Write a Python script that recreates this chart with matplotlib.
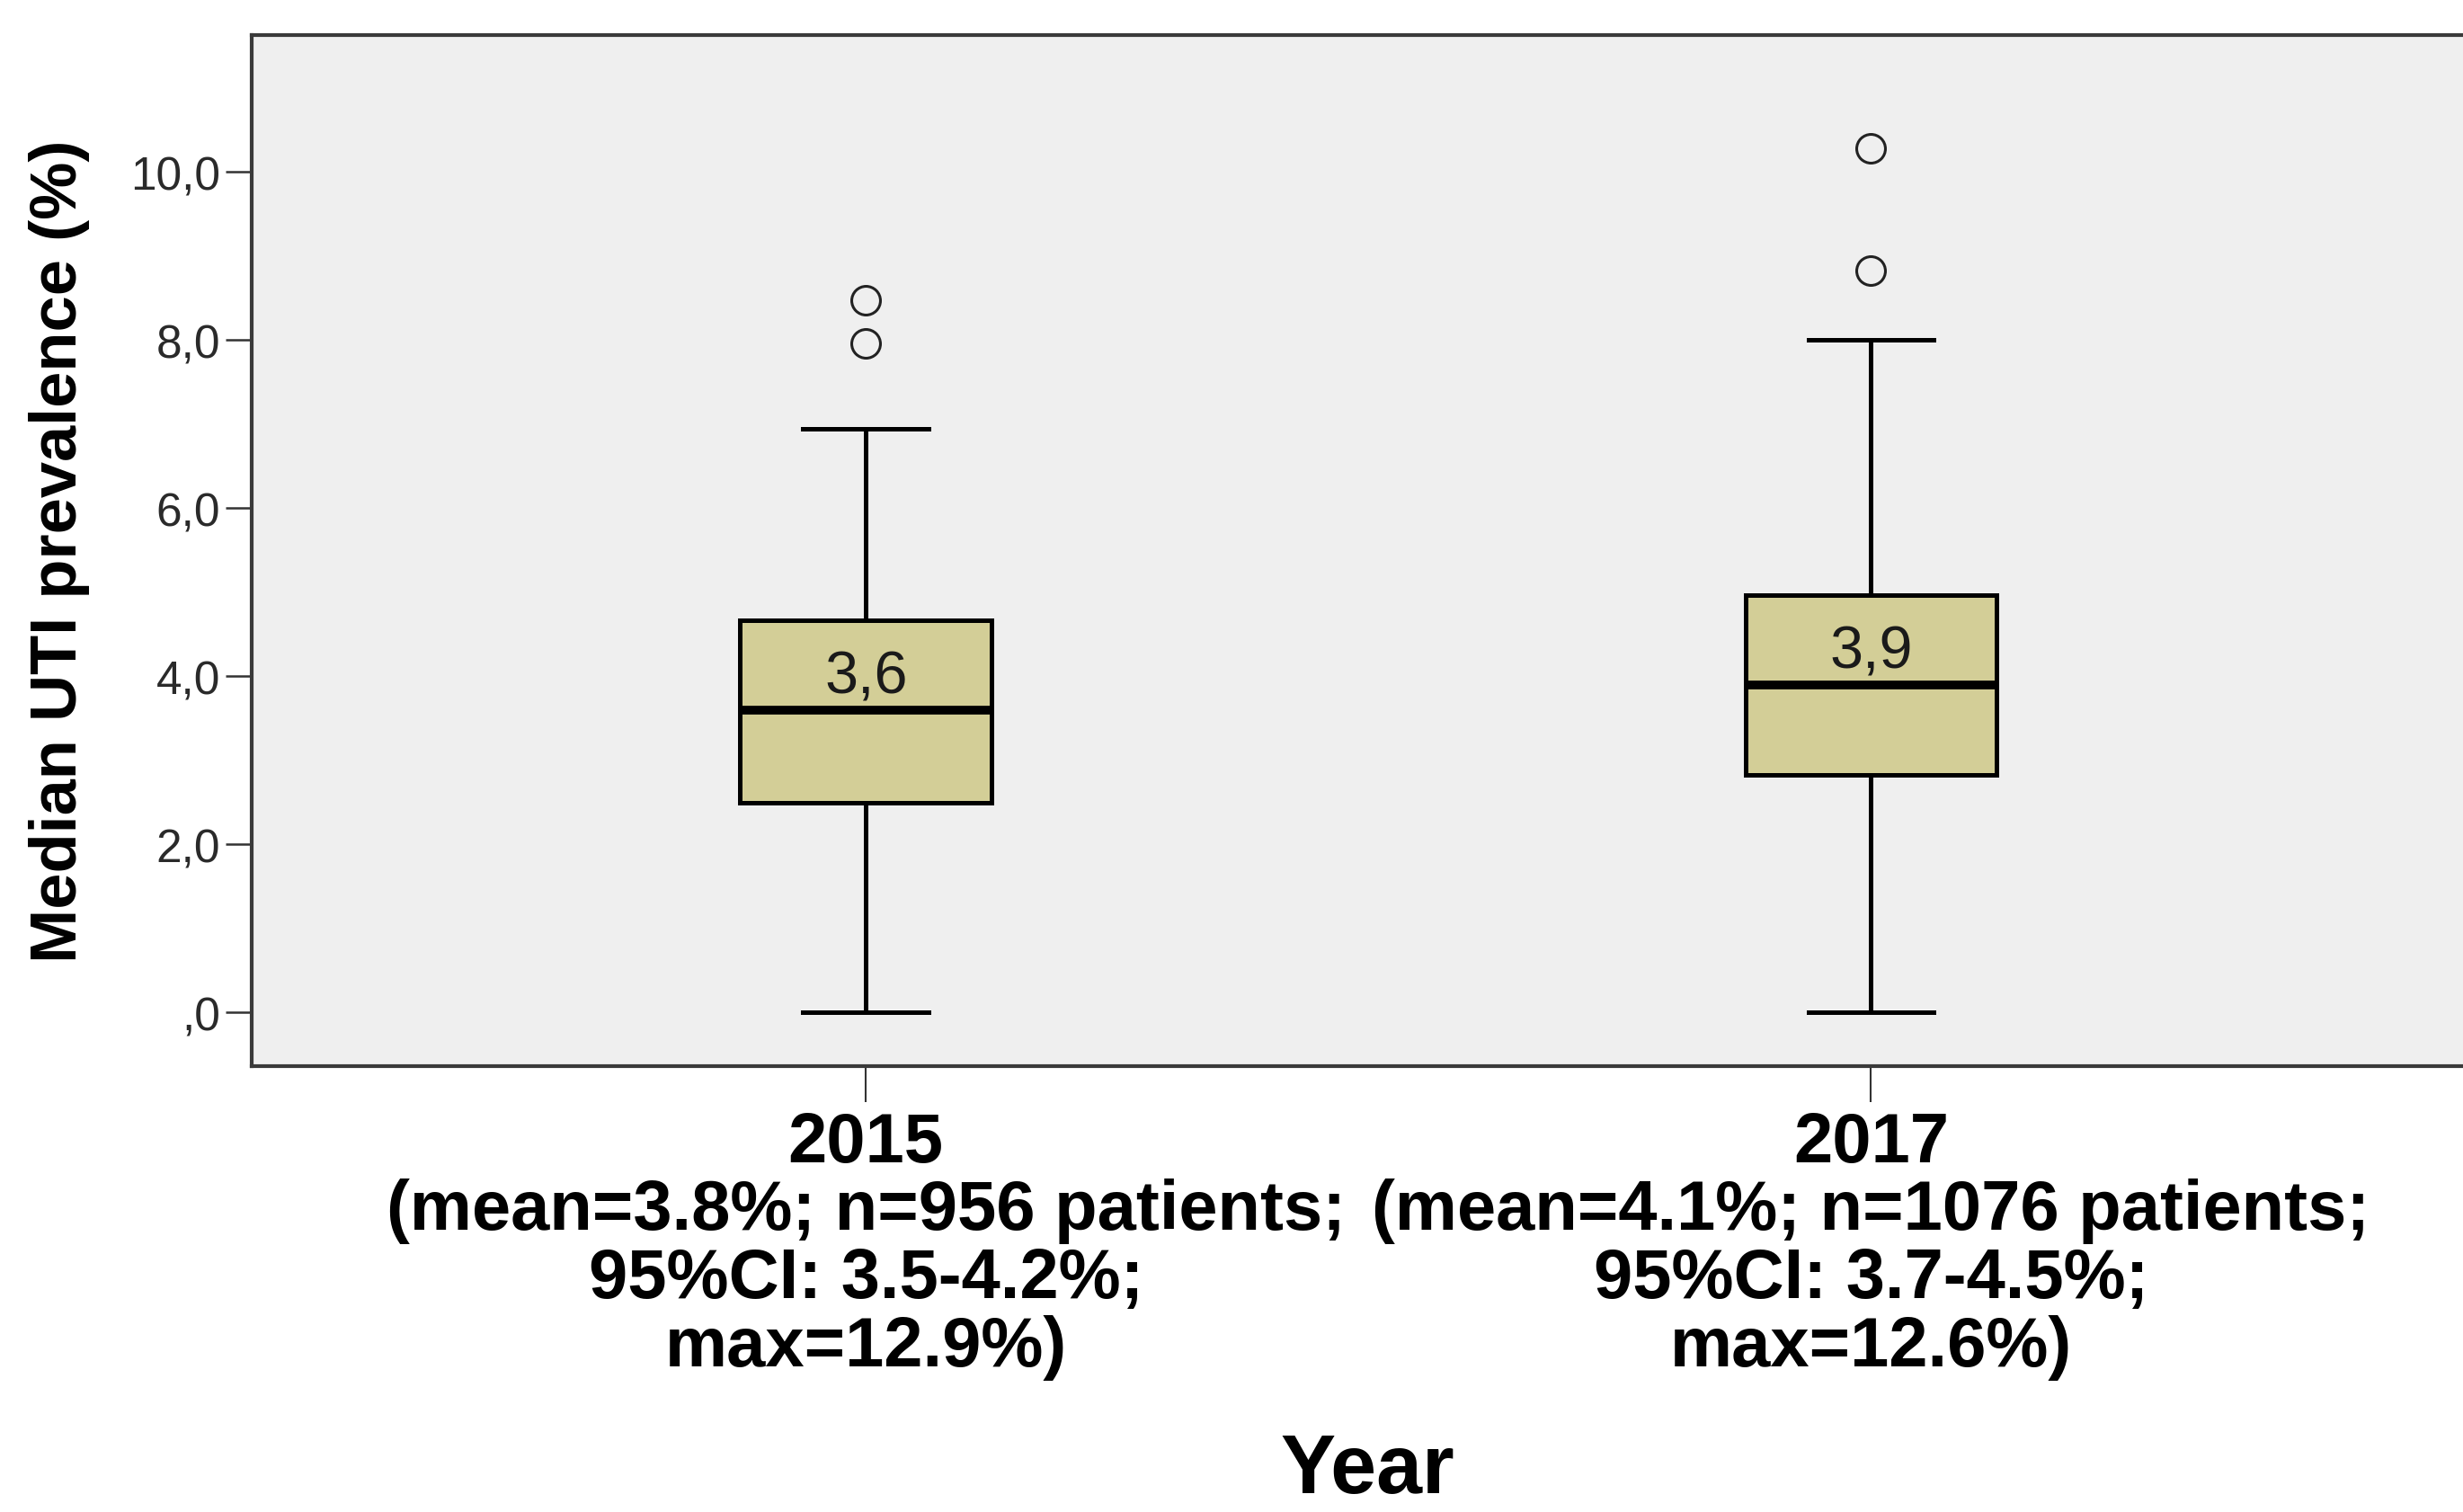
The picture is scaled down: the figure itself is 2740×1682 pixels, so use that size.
import matplotlib
matplotlib.use('Agg')
import matplotlib.pyplot as plt

plt.rcParams['font.family'] = ['Liberation Sans', 'DejaVu Sans']

# UTI prevalence per ward, summarised per survey year
years = ['2015', '2017']
year_notes = [
    '(mean=3.8%; n=956 patients;\n95%CI: 3.5-4.2%;\nmax=12.9%)',
    '(mean=4.1%; n=1076 patients;\n95%CI: 3.7-4.5%;\nmax=12.6%)',
]
medians = [3.6, 3.9]
q1 = [2.5, 2.83]
q3 = [4.67, 4.97]
whisker_lo = [0.0, 0.0]
whisker_hi = [6.95, 8.0]
outliers = [[7.96, 8.48], [8.83, 10.28]]
median_labels = ['3,6', '3,9']

ytick_values = [0, 2, 4, 6, 8, 10]
ytick_labels = [',0', '2,0', '4,0', '6,0', '8,0', '10,0']

box_color = '#d3ce97'
positions = [1, 2]

stats = []
for i in range(len(years)):
    stats.append(dict(med=medians[i], q1=q1[i], q3=q3[i],
                      whislo=whisker_lo[i], whishi=whisker_hi[i],
                      fliers=outliers[i]))

fig = plt.figure(figsize=(27.4, 16.83), dpi=100)
ax = fig.add_axes([0.1022, 0.2947, 0.8978, 0.6815])
ax.set_facecolor('#efefef')

ax.bxp(stats, positions=positions, widths=0.25, capwidths=0.125,
       patch_artist=True, manage_ticks=False,
       boxprops=dict(facecolor=box_color, edgecolor='black', linewidth=3.6),
       medianprops=dict(color='black', linewidth=7),
       whiskerprops=dict(color='black', linewidth=3.6),
       capprops=dict(color='black', linewidth=3.6),
       flierprops=dict(marker='o', markerfacecolor='none',
                       markeredgecolor='#222222', markersize=23,
                       markeredgewidth=2.2))

# median value written just above the median line
for pos, med, lab in zip(positions, medians, median_labels):
    ax.annotate(lab, xy=(pos, med), xytext=(0, 14), textcoords='offset points',
                ha='center', va='baseline', fontsize=48, color='#1a1a1a')

ax.set_xlim(0.389, 2.589)
ax.set_ylim(-0.64, 11.63)

ax.set_yticks(ytick_values)
ax.set_yticklabels(ytick_labels, fontsize=37, color='#2a2a2a')
ax.tick_params(axis='y', direction='out', length=21, width=1.8,
               color='#333333', pad=4)

ax.set_xticks(positions)
ax.set_xticklabels([y + '\n' + n for y, n in zip(years, year_notes)],
                   fontsize=56, fontweight='bold', linespacing=1.05)
ax.tick_params(axis='x', direction='out', length=29, width=1.5,
               color='#333333', pad=6)

for side in ['left', 'top', 'bottom']:
    ax.spines[side].set_color('#3a3a3a')
    ax.spines[side].set_linewidth(3)
ax.spines['right'].set_visible(False)

ax.set_ylabel('Median UTI prevalence (%)', fontsize=52, fontweight='bold')
ax.yaxis.set_label_coords(-0.073, 0.5)

fig.text(1521 / 2740, 0.002, 'Year', ha='center', va='bottom',
         fontsize=66, fontweight='bold')

fig.savefig('out.png', dpi=100, facecolor='white')
